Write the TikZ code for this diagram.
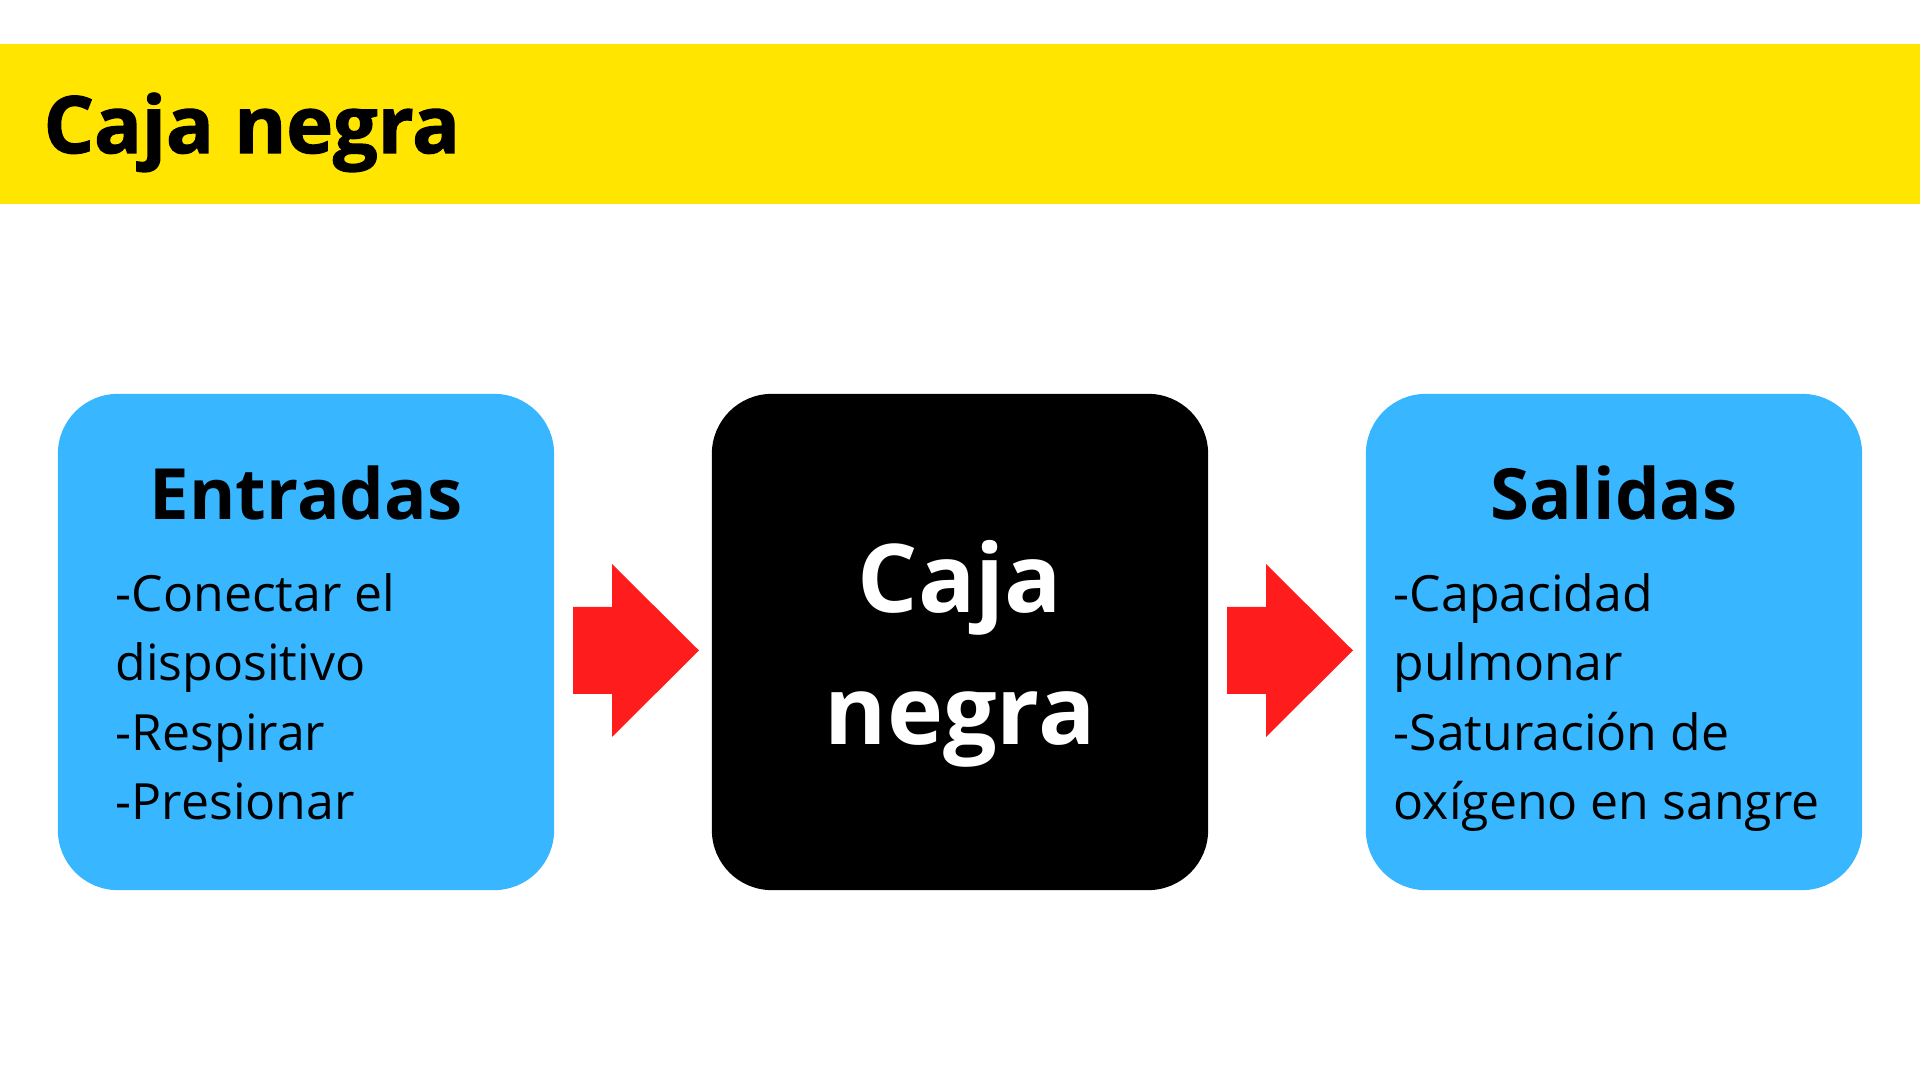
\documentclass[tikz,border=0pt]{standalone}
\usepackage{fontspec}
\setmainfont{Open Sans}
\newfontfamily\titlefont{Open Sans}[BoldFeatures={FakeBold=1.6}]
\usetikzlibrary{calc}

\definecolor{bandyellow}{HTML}{FFE500}
\definecolor{boxblue}{HTML}{38B6FF}
\definecolor{arrowred}{HTML}{FF1C1C}

\tikzset{
  panel/.style={rounded corners=0.6cm,minimum width=4.96cm,minimum height=4.96cm,inner sep=0pt},
  heading/.style={font=\fontsize{20.1}{24}\selectfont\bfseries,anchor=base,inner sep=0pt},
  bodytext/.style={font=\fontsize{14.2}{19.7}\selectfont,align=left,anchor=base west,inner sep=0pt},
}

\begin{document}
\begin{tikzpicture}[x=0.01cm,y=-0.01cm]
\useasboundingbox (0,0) rectangle (1920,1080);
\fill[bandyellow] (0,44) rectangle (1920,204);
\node[font=\fontsize{22.5}{27}\selectfont\titlefont\bfseries,anchor=base west,inner sep=0pt] (title) at (43,153) {Caja negra};

\node[panel,fill=boxblue] (entradas) at (306,642) {};
\node[panel,fill=black] (caja) at (960,642) {};
\node[panel,fill=boxblue] (salidas) at (1614,642) {};

\node[heading] (entradashead) at (306,520) {Entradas};
\node[heading] (salidashead) at (1614,520) {Salidas};
% base anchor sits on the last line
\node[bodytext] (entradaslist) at (115,819.5) {-Conectar el\\dispositivo\\-Respirar\\-Presionar};
\node[bodytext] (salidaslist) at (1393,819.5) {-Capacidad\\pulmonar\\-Saturación de\\oxígeno en sangre};
\node[font=\fontsize{27}{37.7}\selectfont\bfseries,text=white,align=center,anchor=base,inner sep=0pt] (cajatext) at (960,745) {Caja\\negra};

% block arrows between the boxes
\foreach \a/\b in {entradas/caja,caja/salidas}{
  \coordinate (mid) at ($(\a.east)!0.5!(\b.west)$);
  \begin{scope}[shift={(mid)}]
    \fill[arrowred] (-60,-35) -- (-21,-35) -- (-21,-78) -- (66,8.5) -- (-21,95) -- (-21,52) -- (-60,52) -- cycle;
  \end{scope}
}
\end{tikzpicture}
\end{document}
